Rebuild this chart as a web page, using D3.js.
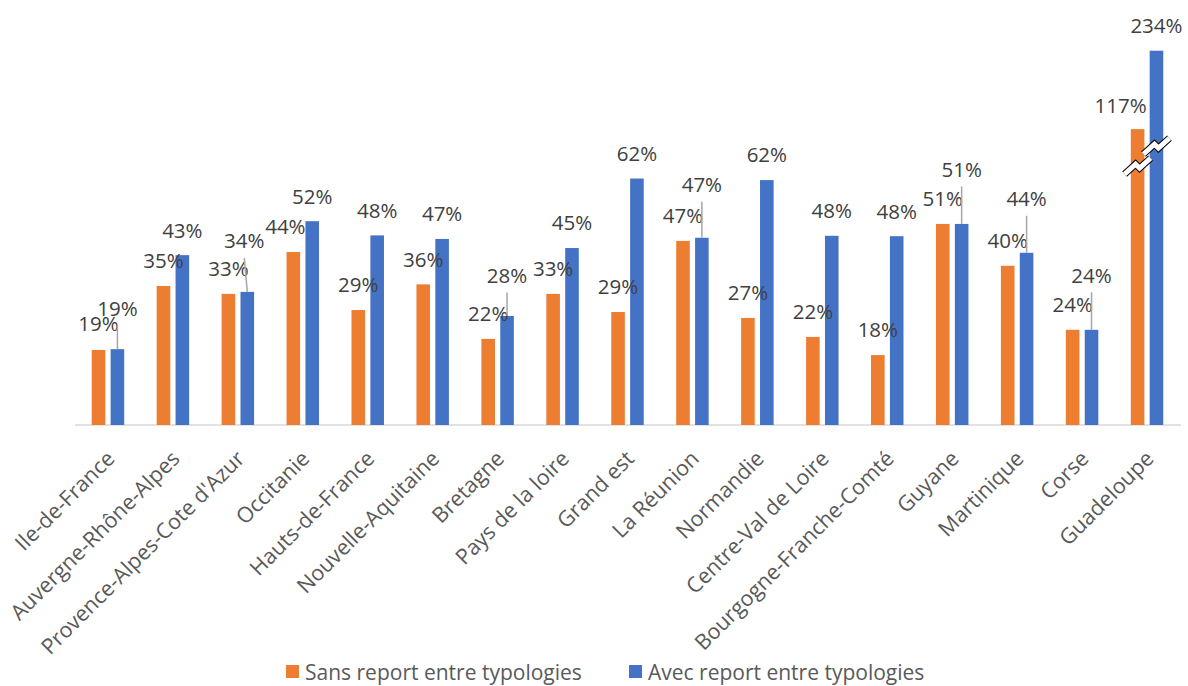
<!DOCTYPE html>
<html>
<head>
<meta charset="utf-8">
<script src="https://cdn.jsdelivr.net/npm/d3@7"></script>
<style>
  html, body { margin: 0; padding: 0; background: #fff; }
  svg { display: block; }
</style>
</head>
<body>
<div id="chart"></div>
<script>
const regions = [
  "Ile-de-France", "Auvergne-Rhône-Alpes", "Provence-Alpes-Cote d'Azur", "Occitanie",
  "Hauts-de-France", "Nouvelle-Aquitaine", "Bretagne", "Pays de la loire", "Grand est",
  "La Réunion", "Normandie", "Centre-Val de Loire", "Bourgogne-Franche-Comté",
  "Guyane", "Martinique", "Corse", "Guadeloupe"
];
const sansReport = [0.190, 0.352, 0.332, 0.438, 0.291, 0.356, 0.218, 0.332, 0.286, 0.466, 0.271, 0.223, 0.177, 0.509, 0.403, 0.241, 1.17];
const avecReport = [0.192, 0.430, 0.337, 0.516, 0.480, 0.471, 0.276, 0.448, 0.624, 0.474, 0.620, 0.479, 0.478, 0.509, 0.436, 0.241, 2.34];
const seriesNames = ["Sans report entre typologies", "Avec report entre typologies"];

// label nudges (px) where Excel moved the labels; [dx, dy]
const sansNudge = { 0: [0, -1], 3: [-8, 0], 16: [-17, 1.5] };
const avecNudge = { 0: [0, -16], 2: [-3, -26], 6: [0, -15.5], 9: [0, -28], 13: [0, -29.5], 14: [0, -29], 15: [0, -29.5] };

const W = 1188, H = 686;
const colors = ["#ED7D31", "#4472C4"];
const font = "'Open Sans', 'Noto Sans', sans-serif";

const svg = d3.select("#chart").append("svg")
  .attr("width", W).attr("height", H)
  .attr("viewBox", `0 0 ${W} ${H}`);

const x0 = d3.scaleBand().domain(regions).range([75.5, 1179.5]).paddingInner(0.5).paddingOuter(0.25);
const x1 = d3.scaleBand().domain([0, 1]).range([0, x0.bandwidth()]).paddingInner(0.28);

// broken axis: linear up to the break, compressed above it
const yBreak = 0.663;
const y = d3.scaleLinear().domain([0, yBreak, 2.34]).range([425, 425 - yBreak * 395, 50.7]);

// axis line
svg.append("line")
  .attr("x1", 75).attr("x2", 1181)
  .attr("y1", y(0)).attr("y2", y(0))
  .attr("stroke", "#D9D9D9").attr("stroke-width", 1.5);

const fmt = d3.format(".0%");
const series = [sansReport, avecReport];
const nudges = [sansNudge, avecNudge];

series.forEach((vals, s) => {
  const g = svg.append("g");
  g.selectAll("rect").data(vals).enter().append("rect")
    .attr("x", (d, i) => x0(regions[i]) + x1(s))
    .attr("y", d => y(d))
    .attr("width", x1.bandwidth())
    .attr("height", d => y(0) - y(d))
    .attr("fill", colors[s]);
});

// break marks on Guadeloupe
const gi = regions.length - 1;
const zig = [[-13, 8], [-2, -2], [2, 2], [13, -8]];
[[0, 3], [1, -17]].forEach(([s, off]) => {
  const cx = x0(regions[gi]) + x1(s) + x1.bandwidth() / 2;
  const cy = y(yBreak) + off;
  const pts = zig.map(([dx, dy]) => [cx + dx, cy + dy]);
  const line = d3.line();
  svg.append("path").attr("d", line(pts)).attr("fill", "none")
    .attr("stroke", "#000").attr("stroke-width", 7).attr("stroke-linejoin", "miter");
  svg.append("path").attr("d", line(pts)).attr("fill", "none")
    .attr("stroke", "#fff").attr("stroke-width", 5).attr("stroke-linejoin", "miter");
});

// data labels
series.forEach((vals, s) => {
  vals.forEach((v, i) => {
    const bx = x0(regions[i]) + x1(s) + x1.bandwidth() / 2;
    const top = y(v);
    const [ndx, ndy] = nudges[s][i] || [0, 0];
    const lx = bx + ndx, ly = top - 25 + ndy;
    if (ndy < -10) {
      svg.append("line")
        .attr("x1", lx).attr("y1", ly + 17)
        .attr("x2", bx).attr("y2", top)
        .attr("stroke", "#A6A6A6").attr("stroke-width", 1.5);
    }
    svg.append("text")
      .attr("x", lx).attr("y", ly).attr("dy", "0.36em")
      .attr("text-anchor", "middle")
      .style("font-family", font).style("font-size", "20.5px")
      .style("fill", "#404040")
      .text(fmt(v));
  });
});

// category labels
svg.append("g").selectAll("text").data(regions).enter().append("text")
  .attr("transform", d => `translate(${x0(d) + x0.bandwidth() / 2 + 8},460) rotate(-45)`)
  .attr("text-anchor", "end")
  .style("font-family", font).style("font-size", "21.5px")
  .style("fill", "#595959")
  .text(d => d);

// legend
const legendX = [286, 629];
seriesNames.forEach((name, s) => {
  svg.append("rect")
    .attr("x", legendX[s]).attr("y", 665)
    .attr("width", 13).attr("height", 13)
    .attr("fill", colors[s]);
  svg.append("text")
    .attr("x", legendX[s] + 19).attr("y", 672).attr("dy", "0.36em")
    .style("font-family", font).style("font-size", "21px")
    .style("fill", "#595959")
    .text(name);
});
</script>
</body>
</html>
